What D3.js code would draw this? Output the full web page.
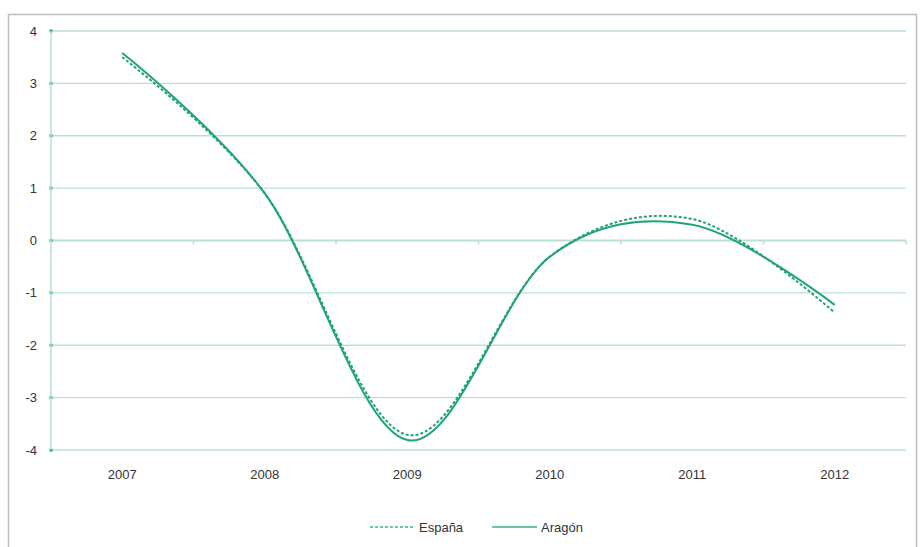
<!DOCTYPE html>
<html>
<head>
<meta charset="utf-8">
<script src="https://cdn.jsdelivr.net/npm/d3@7"></script>
<style>
  body { margin: 0; background: #fff; }
  text { font-family: 'Liberation Sans', Arial, sans-serif; fill: #333; }
</style>
</head>
<body>
<svg id="chart" width="921" height="547"></svg>
<script>
const years = ['2007', '2008', '2009', '2010', '2011', '2012']
const espana = [3.5, 0.9, -3.71, -0.31, 0.41, -1.38]
const aragon = [3.58, 0.9, -3.81, -0.31, 0.3, -1.23]
const yTicks = [4, 3, 2, 1, 0, -1, -2, -3, -4]

const lineColor = '#1fa27e'
const gridColor = '#b9e0d3'

const svg = d3.select('#chart')
const margin = { left: 51, right: 15, top: 31, bottom: 97 }
const width = 921
const height = 547

// outer frame
svg.append('rect')
  .attr('x', 8.5).attr('y', 14.5)
  .attr('width', 908).attr('height', 545)
  .attr('fill', 'none').attr('stroke', '#bdbdbd').attr('stroke-width', 1.5)

const x = d3.scaleBand().domain(years).range([margin.left, width - margin.right])
const y = d3.scaleLinear().domain([-4, 4]).range([height - margin.bottom, margin.top])

// horizontal gridlines
svg.append('g')
  .selectAll('line')
  .data(yTicks)
  .join('line')
  .attr('x1', margin.left).attr('x2', width - margin.right)
  .attr('y1', (d) => y(d)).attr('y2', (d) => y(d))
  .attr('stroke', gridColor)
  .attr('stroke-width', (d) => (d === 0 ? 2 : 1.3))

// tick dots on left axis and right end
svg.append('g')
  .selectAll('rect')
  .data(yTicks)
  .join('rect')
  .attr('x', margin.left - 1.5).attr('y', (d) => y(d) - 1.5)
  .attr('width', 3).attr('height', 3)
  .attr('fill', lineColor)

// left axis line
svg.append('line')
  .attr('x1', margin.left).attr('x2', margin.left)
  .attr('y1', y(4)).attr('y2', y(-4))
  .attr('stroke', gridColor).attr('stroke-width', 1.5)

// category ticks on zero line
const bounds = years.map((d) => x(d)).concat([x.range()[1]])
svg.append('g')
  .selectAll('line')
  .data(bounds.slice(1))
  .join('line')
  .attr('x1', (d) => d).attr('x2', (d) => d)
  .attr('y1', y(0)).attr('y2', y(0) + 4)
  .attr('stroke', gridColor).attr('stroke-width', 1.5)

// y labels
svg.append('g')
  .selectAll('text')
  .data(yTicks)
  .join('text')
  .attr('x', 37).attr('y', (d) => y(d))
  .attr('dy', '0.35em')
  .attr('text-anchor', 'end')
  .attr('font-size', 13)
  .text((d) => d)

// x labels
svg.append('g')
  .selectAll('text')
  .data(years)
  .join('text')
  .attr('x', (d) => x(d) + x.bandwidth() / 2)
  .attr('y', 479)
  .attr('text-anchor', 'middle')
  .attr('font-size', 13)
  .text((d) => d)

const line = d3.line()
  .x((d, i) => x(years[i]) + x.bandwidth() / 2)
  .y((d) => y(d))
  .curve(d3.curveCardinal.tension(0))

svg.append('path')
  .attr('d', line(espana))
  .attr('fill', 'none')
  .attr('stroke', lineColor)
  .attr('stroke-width', 2)
  .attr('stroke-dasharray', '3,2')

svg.append('path')
  .attr('d', line(aragon))
  .attr('fill', 'none')
  .attr('stroke', lineColor)
  .attr('stroke-width', 2)

// legend
const legend = [
  { name: 'España', dash: '3,2', x: 370 },
  { name: 'Aragón', dash: null, x: 492 },
]
const lg = svg.append('g')
  .selectAll('g')
  .data(legend)
  .join('g')
  .attr('transform', (d) => `translate(${d.x},527)`)
lg.append('line')
  .attr('x1', 0).attr('x2', 45)
  .attr('stroke', '#6cc4a6').attr('stroke-width', 2)
  .attr('stroke-dasharray', (d) => d.dash)
lg.append('text')
  .attr('x', 49).attr('dy', '0.35em')
  .attr('font-size', 13)
  .text((d) => d.name)
</script>
</body>
</html>
